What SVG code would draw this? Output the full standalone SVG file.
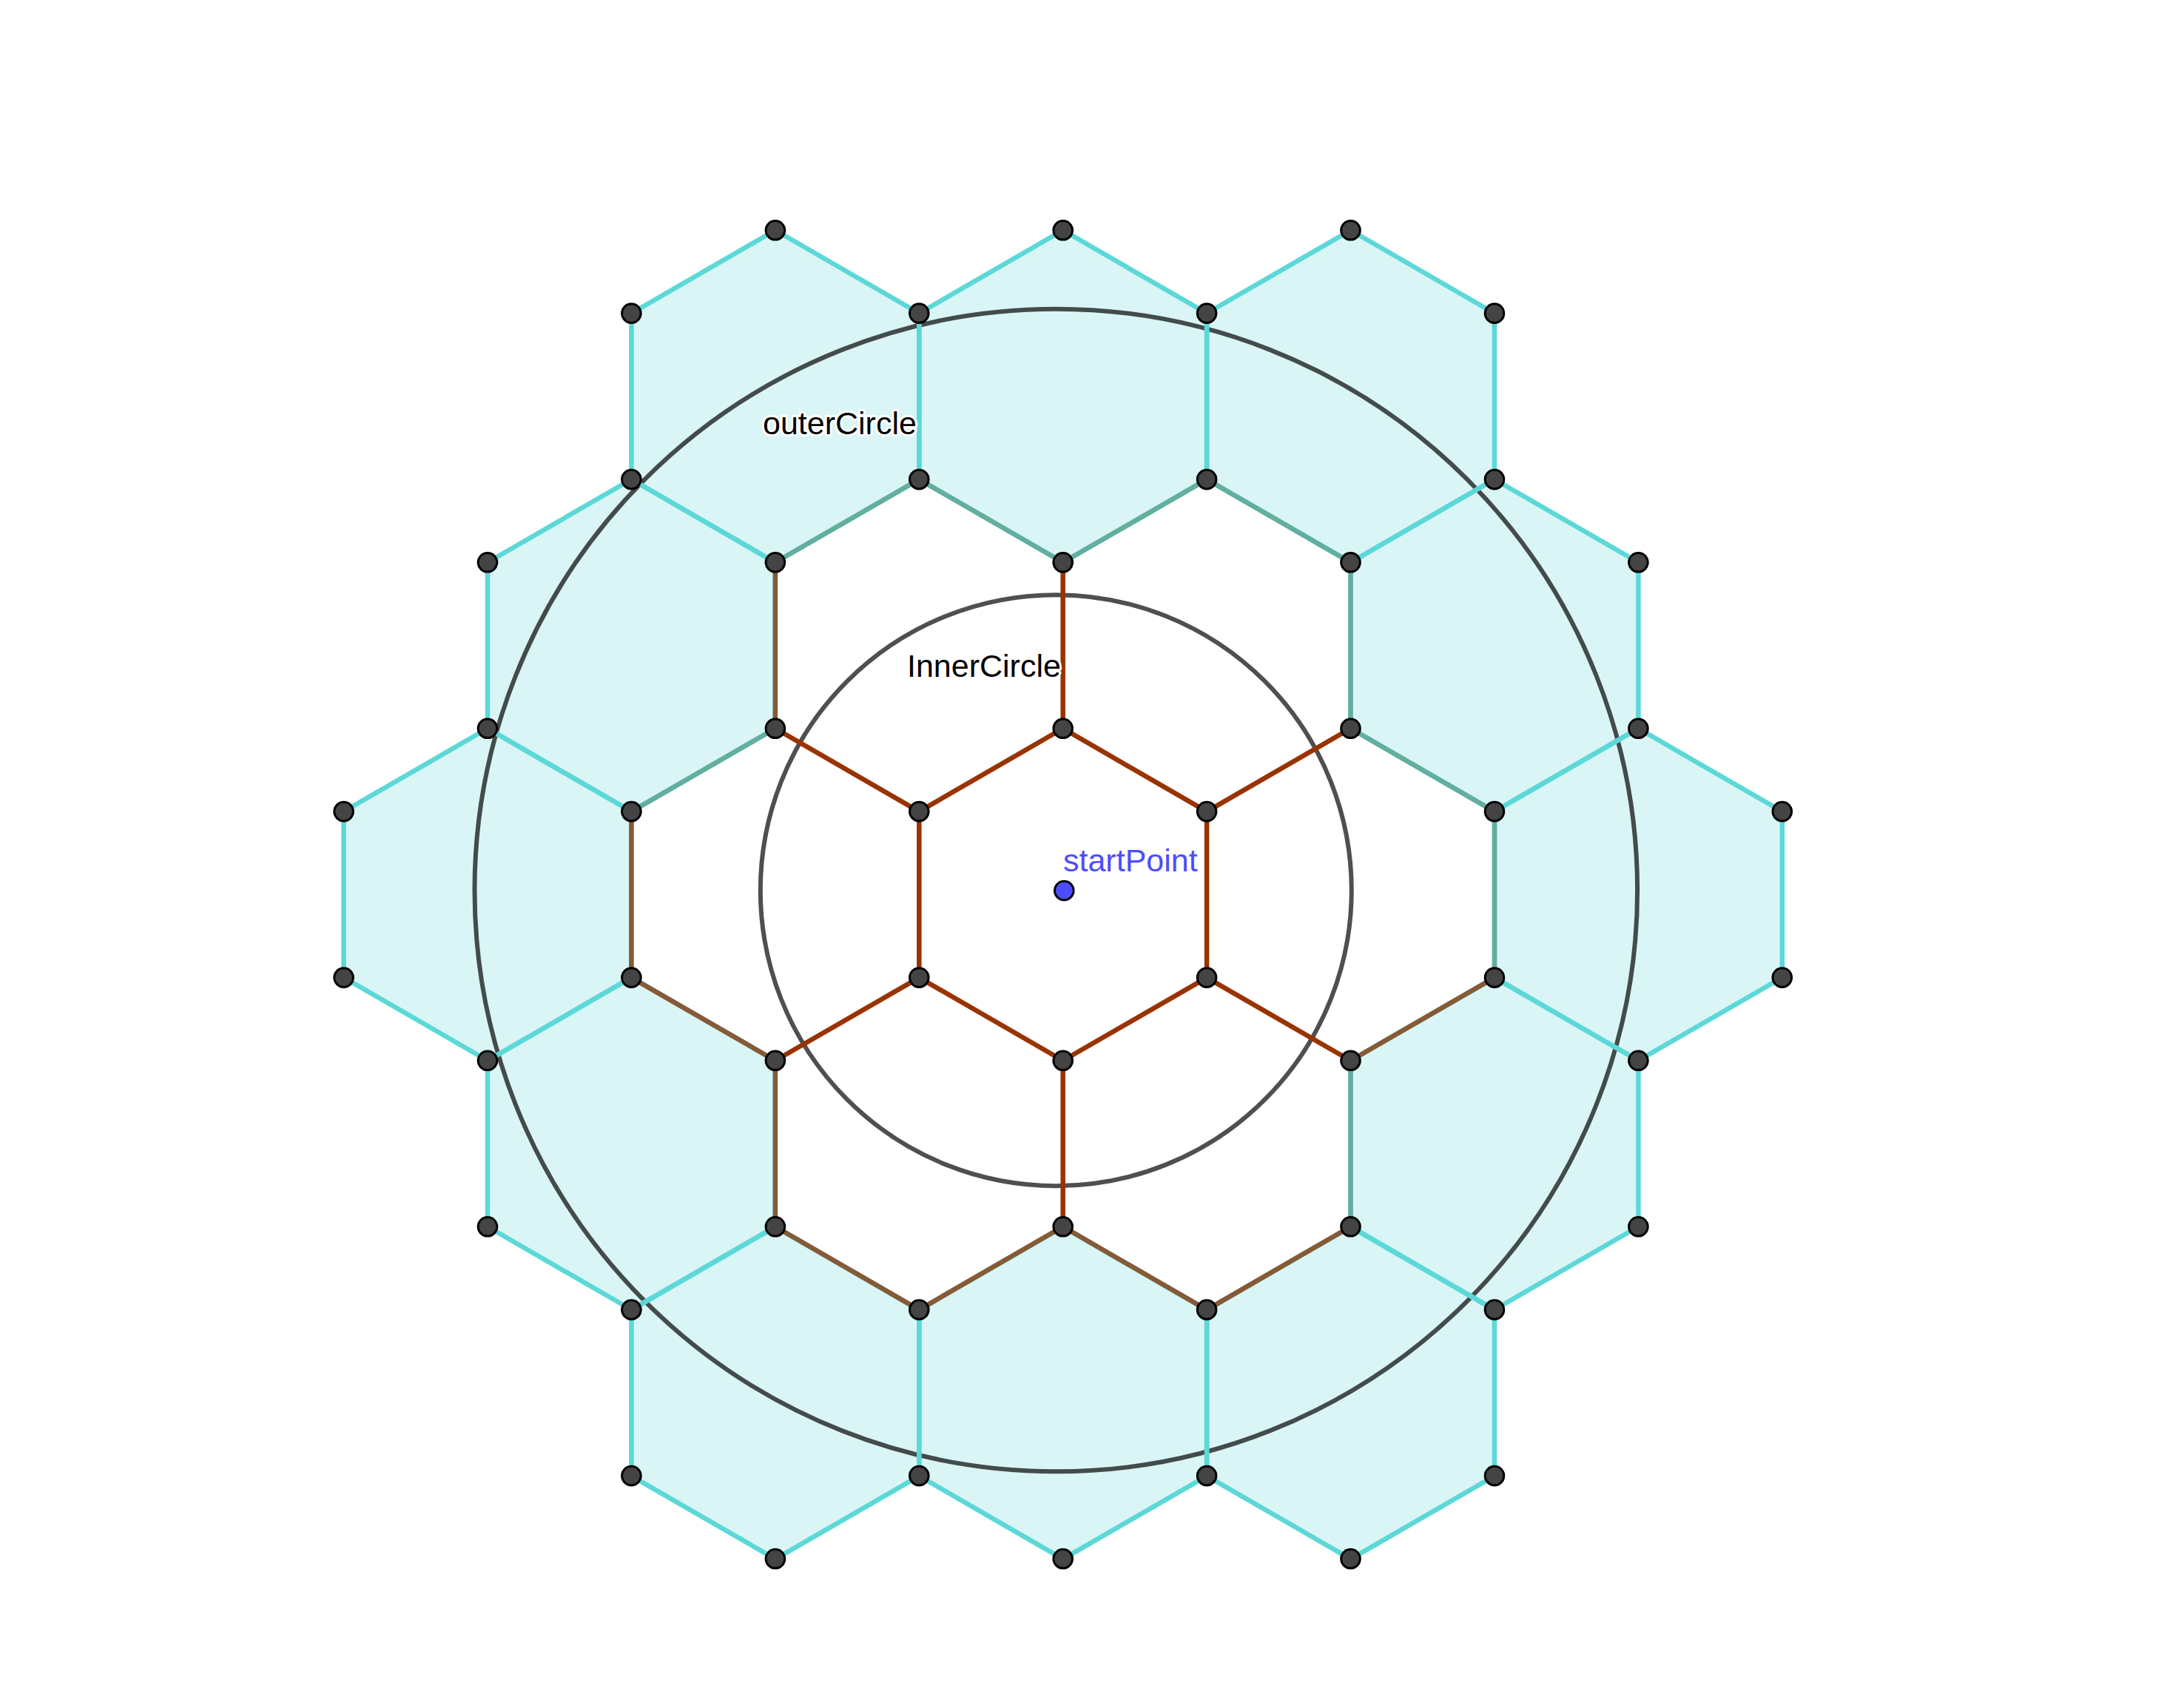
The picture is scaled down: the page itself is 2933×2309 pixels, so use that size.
<svg xmlns="http://www.w3.org/2000/svg" xmlns:xlink="http://www.w3.org/1999/xlink" width="2933" height="2309" viewBox="0 0 2933 2309">
<style>
.fill{fill:#daf5f5;stroke:none}
.cy{fill:none;stroke:#5cd8d8;stroke-width:6.5;stroke-linejoin:round}
.br{stroke:#865a36;stroke-width:6.5;stroke-linecap:round}
.tl{stroke:#64ae9f;stroke-width:6.5;stroke-linecap:round}
.rd{stroke:#993300;stroke-width:6.5;stroke-linecap:round;fill:none;stroke-linejoin:round}
.circ{fill:none;stroke-width:6}
.pt{fill:#444444;stroke:#000;stroke-width:3}
.lbl{font-family:"Liberation Sans",Arial,sans-serif;font-size:43px;fill:#000;stroke:#fff;stroke-width:6;stroke-linejoin:round;paint-order:stroke}
</style>
<defs>
<polygon id="hex" points="0,-224.5 194.42,-112.25 194.42,112.25 0,224.5 -194.42,112.25 -194.42,-112.25"/>
</defs>
<rect width="2933" height="2309" fill="#fff"/>
<g id="ring2-fills">
<use xlink:href="#hex" href="#hex" class="fill" transform="translate(1047.9,535.8)"/>
<use xlink:href="#hex" href="#hex" class="fill" transform="translate(1436.7,535.8)"/>
<use xlink:href="#hex" href="#hex" class="fill" transform="translate(1825.5,535.8)"/>
<use xlink:href="#hex" href="#hex" class="fill" transform="translate(853.4,872.55)"/>
<use xlink:href="#hex" href="#hex" class="fill" transform="translate(2020,872.55)"/>
<use xlink:href="#hex" href="#hex" class="fill" transform="translate(659,1209.3)"/>
<use xlink:href="#hex" href="#hex" class="fill" transform="translate(2214.4,1209.3)"/>
<use xlink:href="#hex" href="#hex" class="fill" transform="translate(853.4,1546.05)"/>
<use xlink:href="#hex" href="#hex" class="fill" transform="translate(2020,1546.05)"/>
<use xlink:href="#hex" href="#hex" class="fill" transform="translate(1047.9,1883.1)"/>
<use xlink:href="#hex" href="#hex" class="fill" transform="translate(1436.7,1883.1)"/>
<use xlink:href="#hex" href="#hex" class="fill" transform="translate(1825.5,1883.1)"/>
</g>
<g id="outerCircle">
<circle class="circ" cx="1427.3" cy="1203.5" r="785.8" stroke="#434b4b"/>
</g>
<g id="InnerCircle">
<circle class="circ" cx="1427.3" cy="1203.7" r="399.5" stroke="#4f4f4f"/>
</g>
<g id="connectors">
<g id="ring2-edges">
<use xlink:href="#hex" href="#hex" class="cy" transform="translate(1047.9,535.8)"/>
<use xlink:href="#hex" href="#hex" class="cy" transform="translate(1436.7,535.8)"/>
<use xlink:href="#hex" href="#hex" class="cy" transform="translate(1825.5,535.8)"/>
<use xlink:href="#hex" href="#hex" class="cy" transform="translate(853.4,872.55)"/>
<use xlink:href="#hex" href="#hex" class="cy" transform="translate(2020,872.55)"/>
<use xlink:href="#hex" href="#hex" class="cy" transform="translate(659,1209.3)"/>
<use xlink:href="#hex" href="#hex" class="cy" transform="translate(2214.4,1209.3)"/>
<use xlink:href="#hex" href="#hex" class="cy" transform="translate(853.4,1546.05)"/>
<use xlink:href="#hex" href="#hex" class="cy" transform="translate(2020,1546.05)"/>
<use xlink:href="#hex" href="#hex" class="cy" transform="translate(1047.9,1883.1)"/>
<use xlink:href="#hex" href="#hex" class="cy" transform="translate(1436.7,1883.1)"/>
<use xlink:href="#hex" href="#hex" class="cy" transform="translate(1825.5,1883.1)"/>
</g>
<g id="ring1-edges">
<line class="tl" x1="1436.7" y1="760.3" x2="1242.3" y2="648.1"/>
<line class="tl" x1="1242.3" y1="648.1" x2="1047.9" y2="760.3"/>
<line class="br" x1="1047.9" y1="760.3" x2="1047.9" y2="984.8"/>
<line class="tl" x1="1047.9" y1="984.8" x2="853.4" y2="1097.1"/>
<line class="br" x1="853.4" y1="1097.1" x2="853.4" y2="1321.6"/>
<line class="br" x1="853.4" y1="1321.6" x2="1047.9" y2="1433.8"/>
<line class="br" x1="1047.9" y1="1433.8" x2="1047.9" y2="1658.3"/>
<line class="br" x1="1047.9" y1="1658.3" x2="1242.3" y2="1770.6"/>
<line class="br" x1="1242.3" y1="1770.6" x2="1436.7" y2="1658.3"/>
<line class="br" x1="1436.7" y1="1658.3" x2="1631.1" y2="1770.6"/>
<line class="br" x1="1631.1" y1="1770.6" x2="1825.5" y2="1658.3"/>
<line class="tl" x1="1825.5" y1="1658.3" x2="1825.5" y2="1433.8"/>
<line class="br" x1="1825.5" y1="1433.8" x2="2020" y2="1321.6"/>
<line class="tl" x1="2020" y1="1321.6" x2="2020" y2="1097.1"/>
<line class="tl" x1="2020" y1="1097.1" x2="1825.5" y2="984.8"/>
<line class="tl" x1="1825.5" y1="984.8" x2="1825.5" y2="760.3"/>
<line class="tl" x1="1825.5" y1="760.3" x2="1631.1" y2="648.1"/>
<line class="tl" x1="1631.1" y1="648.1" x2="1436.7" y2="760.3"/>
</g>
<g id="spokes">
<line class="rd" x1="1436.7" y1="760.3" x2="1436.7" y2="984.8"/>
<line class="rd" x1="1825.5" y1="984.8" x2="1631.1" y2="1097.1"/>
<line class="rd" x1="1825.5" y1="1433.8" x2="1631.1" y2="1321.6"/>
<line class="rd" x1="1436.7" y1="1433.8" x2="1436.7" y2="1658.3"/>
<line class="rd" x1="1047.9" y1="1433.8" x2="1242.3" y2="1321.6"/>
<line class="rd" x1="1047.9" y1="984.8" x2="1242.3" y2="1097.1"/>
</g>
<g id="center-hex">
<polygon class="rd" points="1436.7,984.8 1631.1,1097.1 1631.1,1321.6 1436.7,1433.8 1242.3,1321.6 1242.3,1097.1"/>
</g>
</g>
<g id="labels">
<text class="lbl" x="1031" y="587">outerCircle</text>
<text class="lbl" x="1226" y="915">InnerCircle</text>
<text class="lbl" x="1437" y="1178" style="fill:#4d4dff">startPoint</text>
</g>
<g id="points">
<circle class="pt" cx="1047.9" cy="311.3" r="12.8"/>
<circle class="pt" cx="1436.7" cy="311.3" r="12.8"/>
<circle class="pt" cx="1825.5" cy="311.3" r="12.8"/>
<circle class="pt" cx="853.4" cy="423.6" r="12.8"/>
<circle class="pt" cx="1242.3" cy="423.6" r="12.8"/>
<circle class="pt" cx="1631.1" cy="423.6" r="12.8"/>
<circle class="pt" cx="2020" cy="423.6" r="12.8"/>
<circle class="pt" cx="853.4" cy="648.1" r="12.8"/>
<circle class="pt" cx="1242.3" cy="648.1" r="12.8"/>
<circle class="pt" cx="1631.1" cy="648.1" r="12.8"/>
<circle class="pt" cx="2020" cy="648.1" r="12.8"/>
<circle class="pt" cx="659" cy="760.3" r="12.8"/>
<circle class="pt" cx="1047.9" cy="760.3" r="12.8"/>
<circle class="pt" cx="1436.7" cy="760.3" r="12.8"/>
<circle class="pt" cx="1825.5" cy="760.3" r="12.8"/>
<circle class="pt" cx="2214.4" cy="760.3" r="12.8"/>
<circle class="pt" cx="659" cy="984.8" r="12.8"/>
<circle class="pt" cx="1047.9" cy="984.8" r="12.8"/>
<circle class="pt" cx="1436.7" cy="984.8" r="12.8"/>
<circle class="pt" cx="1825.5" cy="984.8" r="12.8"/>
<circle class="pt" cx="2214.4" cy="984.8" r="12.8"/>
<circle class="pt" cx="464.6" cy="1097.1" r="12.8"/>
<circle class="pt" cx="853.4" cy="1097.1" r="12.8"/>
<circle class="pt" cx="1242.3" cy="1097.1" r="12.8"/>
<circle class="pt" cx="1631.1" cy="1097.1" r="12.8"/>
<circle class="pt" cx="2020" cy="1097.1" r="12.8"/>
<circle class="pt" cx="2408.8" cy="1097.1" r="12.8"/>
<circle class="pt" cx="464.6" cy="1321.6" r="12.8"/>
<circle class="pt" cx="853.4" cy="1321.6" r="12.8"/>
<circle class="pt" cx="1242.3" cy="1321.6" r="12.8"/>
<circle class="pt" cx="1631.1" cy="1321.6" r="12.8"/>
<circle class="pt" cx="2020" cy="1321.6" r="12.8"/>
<circle class="pt" cx="2408.8" cy="1321.6" r="12.8"/>
<circle class="pt" cx="659" cy="1433.8" r="12.8"/>
<circle class="pt" cx="1047.9" cy="1433.8" r="12.8"/>
<circle class="pt" cx="1436.7" cy="1433.8" r="12.8"/>
<circle class="pt" cx="1825.5" cy="1433.8" r="12.8"/>
<circle class="pt" cx="2214.4" cy="1433.8" r="12.8"/>
<circle class="pt" cx="659" cy="1658.3" r="12.8"/>
<circle class="pt" cx="1047.9" cy="1658.3" r="12.8"/>
<circle class="pt" cx="1436.7" cy="1658.3" r="12.8"/>
<circle class="pt" cx="1825.5" cy="1658.3" r="12.8"/>
<circle class="pt" cx="2214.4" cy="1658.3" r="12.8"/>
<circle class="pt" cx="853.4" cy="1770.6" r="12.8"/>
<circle class="pt" cx="1242.3" cy="1770.6" r="12.8"/>
<circle class="pt" cx="1631.1" cy="1770.6" r="12.8"/>
<circle class="pt" cx="2020" cy="1770.6" r="12.8"/>
<circle class="pt" cx="853.4" cy="1995.1" r="12.8"/>
<circle class="pt" cx="1242.3" cy="1995.1" r="12.8"/>
<circle class="pt" cx="1631.1" cy="1995.1" r="12.8"/>
<circle class="pt" cx="2020" cy="1995.1" r="12.8"/>
<circle class="pt" cx="1047.9" cy="2107.3" r="12.8"/>
<circle class="pt" cx="1436.7" cy="2107.3" r="12.8"/>
<circle class="pt" cx="1825.5" cy="2107.3" r="12.8"/>
</g>
<g id="startPoint">
<circle cx="1438.3" cy="1204" r="12.8" fill="#4d4dff" stroke="#000" stroke-width="3"/>
</g>
</svg>
